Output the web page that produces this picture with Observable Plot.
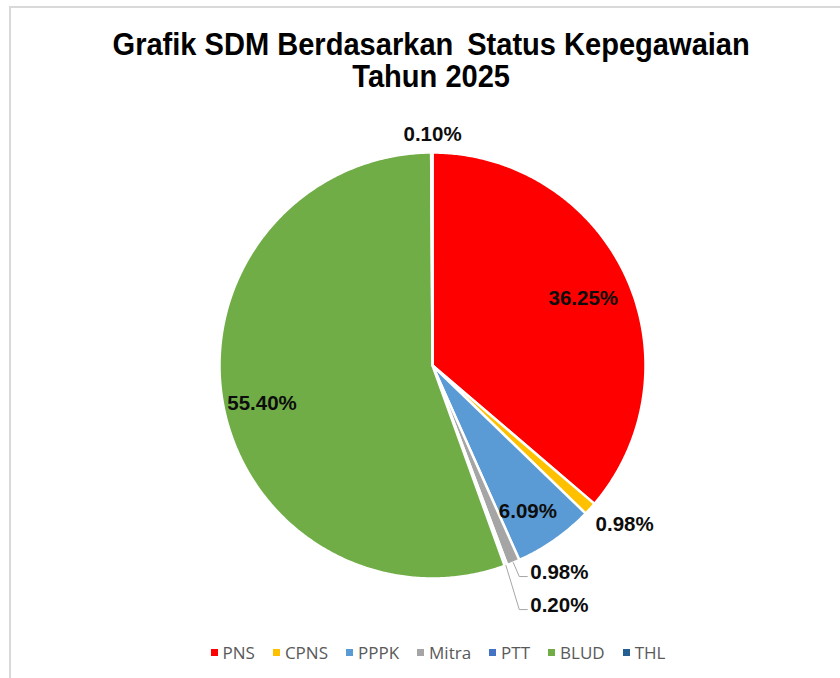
<!DOCTYPE html>
<html>
<head>
<meta charset="utf-8">
<script src="https://cdn.jsdelivr.net/npm/d3@7"></script>
<script src="https://cdn.jsdelivr.net/npm/@observablehq/plot@0.6"></script>
<style>
  html, body { margin: 0; padding: 0; background: #fff; }
  #page { position: relative; width: 840px; height: 678px; overflow: hidden; }
  #frame { position: absolute; left: 9px; top: 6px; width: 900px; height: 700px;
           border-left: 2px solid #d9d9d9; border-top: 2px solid #d9d9d9; }
  #title { position: absolute; left: 11px; top: 27px; width: 840px; text-align: center;
           font-family: "Liberation Sans", Arial, sans-serif; font-weight: bold; font-size: 29.5px;
           line-height: 31px; color: #000; transform: scale(0.985, 1.06); transform-origin: 431px 0; }
  #chart { position: absolute; left: 0; top: 0; }
  #legend { position: absolute; left: 18px; top: 641px; width: 840px; display: flex; justify-content: center;
            gap: 18px; font-family: "Open Sans", sans-serif; font-size: 17px; color: #595959; }
  .item { display: flex; align-items: center; gap: 5px; }
  .sw { width: 7px; height: 7px; display: inline-block; }
</style>
</head>
<body>
<div id="page">
  <div id="frame"></div>
  <div id="title">Grafik SDM Berdasarkan&thinsp; Status Kepegawaian<br>Tahun 2025</div>
  <div id="chart"></div>
  <div id="legend"></div>
</div>
<script>
// ---- data ----
const categories = ["PNS", "CPNS", "PPPK", "Mitra", "PTT", "BLUD", "THL"];
const percents = [36.25, 0.98, 6.09, 0.98, 0.20, 55.40, 0.10];
const colors = ["#FF0000", "#FFC000", "#5B9BD5", "#A5A5A5", "#4472C4", "#70AD47", "#255E91"];

// ---- layout (label placement: radius factor, angle nudge in degrees, anchor, leader) ----
const labelPlacement = [
  { r: 0.775, nudge: 0.7, anchor: "middle", leader: false },
  { r: 1.17, nudge: -2.7, anchor: "middle", leader: false },
  { r: 0.82, nudge: 1.9, anchor: "middle", leader: false },
  { r: 1.075, nudge: -3.0, anchor: "start", leader: true },
  { r: 1.217, nudge: -2.0, anchor: "start", leader: true },
  { r: 0.82, nudge: -2.5, anchor: "middle", leader: false },
  { r: 1.085, nudge: 0.2, anchor: "middle", leader: false }
];

const R = 213, CX = 432, CY = 365;
const total = d3.sum(percents);
const fmt = d3.format(".2f");

// Build slice polygons (angles clockwise from 12 o'clock, y up)
let cum = 0;
const slices = categories.map((c, i) => {
  const a0 = cum / total * 2 * Math.PI;
  cum += percents[i];
  const a1 = cum / total * 2 * Math.PI;
  const n = Math.max(2, Math.ceil((a1 - a0) / (Math.PI / 360)));
  const pts = [{ x: 0, y: 0 }];
  for (let k = 0; k <= n; k++) {
    const a = a0 + (a1 - a0) * k / n;
    pts.push({ x: Math.sin(a), y: Math.cos(a) });
  }
  pts.push({ x: 0, y: 0 });
  return { cat: c, color: colors[i], a0, a1, mid: (a0 + a1) / 2, pts };
});

const labelData = slices.map((s, i) => {
  const p = labelPlacement[i];
  const a = s.mid + p.nudge * Math.PI / 180;
  return { cat: s.cat, x: p.r * Math.sin(a), y: p.r * Math.cos(a), text: fmt(percents[i]) + "%", anchor: p.anchor };
});

// Leader lines for small outside labels
const px = 1 / R;
const leaders = [];
slices.forEach((s, i) => {
  if (!labelPlacement[i].leader) return;
  const L = labelData[i];
  const start = { x: Math.sin(s.mid), y: Math.cos(s.mid) };
  const yLine = L.y - 4 * px;
  leaders.push({ cat: s.cat, x: start.x, y: start.y });
  leaders.push({ cat: s.cat, x: L.x - 11 * px, y: yLine });
  leaders.push({ cat: s.cat, x: L.x - 3 * px, y: yLine });
});

const marks = slices.map(s =>
  Plot.line(s.pts, { x: "x", y: "y", fill: s.color, stroke: "white", strokeWidth: 2.5, strokeLinejoin: "round" })
);
marks.push(Plot.line(leaders, { x: "x", y: "y", z: "cat", stroke: "#a6a6a6", strokeWidth: 1 }));
["middle", "start"].forEach(anc => {
  marks.push(Plot.text(labelData.filter(d => d.anchor === anc), {
    x: "x", y: "y", text: "text", textAnchor: anc,
    fontSize: 20.5, fontWeight: "bold", fill: "#0d0d0d",
    fontFamily: "Liberation Sans, Arial, sans-serif"
  }));
});

const plot = Plot.plot({
  width: 840,
  height: 678,
  margin: 0,
  x: { domain: [-1, 1], range: [CX - R, CX + R], axis: null },
  y: { domain: [-1, 1], range: [CY + R, CY - R], axis: null },
  style: { background: "transparent", overflow: "visible" },
  marks
});
document.getElementById("chart").appendChild(plot);

// Legend
const legend = document.getElementById("legend");
categories.forEach((c, i) => {
  const item = document.createElement("div");
  item.className = "item";
  const sw = document.createElement("span");
  sw.className = "sw";
  sw.style.background = colors[i];
  const t = document.createElement("span");
  t.textContent = c;
  item.appendChild(sw);
  item.appendChild(t);
  legend.appendChild(item);
});
</script>
</body>
</html>
